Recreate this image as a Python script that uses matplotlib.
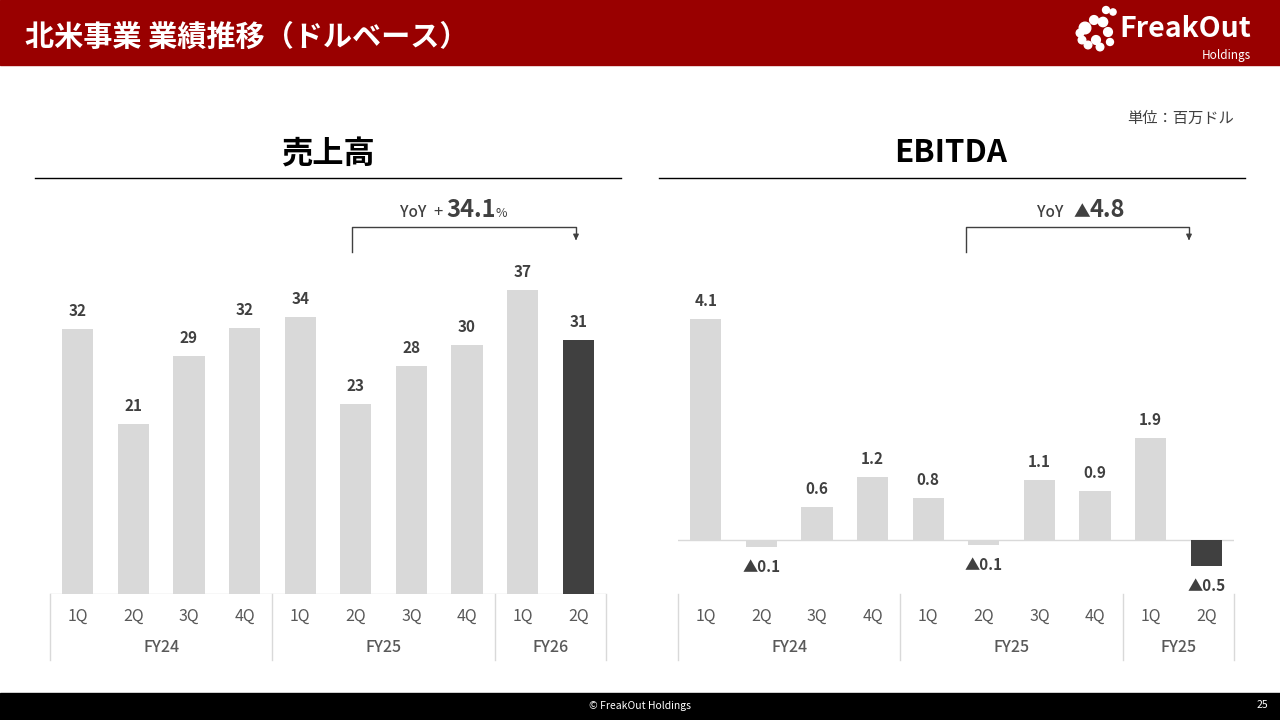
import matplotlib
matplotlib.use('Agg')
import matplotlib.pyplot as plt
from matplotlib.transforms import blended_transform_factory
from matplotlib.patches import Rectangle

plt.rcParams['font.family'] = ['Noto Sans CJK JP', 'DejaVu Sans']

# data (million USD)
quarters = ['1Q', '2Q', '3Q', '4Q', '1Q', '2Q', '3Q', '4Q', '1Q', '2Q']
salesYears = ['FY24', 'FY25', 'FY26']
ebitdaYears = ['FY24', 'FY25', 'FY25']
yearSpans = [(0, 4), (4, 8), (8, 10)]
sales = [32.1, 20.6, 28.8, 32.2, 33.6, 23.0, 27.6, 30.2, 36.9, 30.8]
ebitda = [4.1, -0.13, 0.62, 1.17, 0.78, -0.1, 1.11, 0.91, 1.89, -0.48]
salesYoY = '34.1'
ebitdaYoY = '4.8'

GRAY = '#d9d9d9'
DARK = '#404040'
TXT = '#595959'

fig = plt.figure(figsize=(12.8, 7.2), dpi=100)
over = fig.add_axes([0, 0, 1, 1])
over.set_xlim(0, 1280)
over.set_ylim(720, 0)
over.axis('off')
over.set_zorder(0)

# header / footer
over.add_patch(Rectangle((0, 0), 1280, 65, color='#990000'))
over.add_patch(Rectangle((0, 693), 1280, 27, color='#000000'))
over.text(25, 37, '北米事業 業績推移（ドルベース）', color='white', fontsize=21,
          fontweight='bold', va='center', ha='left')
over.text(1251, 29, 'FreakOut', color='white', fontsize=20.5, fontweight='bold',
          va='center', ha='right')
over.text(1251, 55, 'Holdings', color='white', fontsize=8.5, va='center', ha='right')
# logo mark (rough)
over.scatter([1085, 1094, 1103, 1108, 1096, 1082, 1080, 1088, 1100, 1110, 1113, 1106],
             [28, 20, 22, 32, 40, 40, 33, 45, 47, 42, 12, 10],
             s=[70, 40, 45, 40, 40, 30, 30, 30, 30, 25, 20, 25], color='white', zorder=3)
over.text(640, 706, '© FreakOut Holdings', color='white', fontsize=7.5, ha='center', va='center')
over.text(1268, 705, '25', color='white', fontsize=7.5, ha='right', va='center')
over.text(1234, 118, '単位：百万ドル', color=DARK, fontsize=11, ha='right', va='center')

# section titles
over.text(328, 155, '売上高', fontsize=22.5, fontweight='bold', color='black', ha='center', va='center')
over.plot([35, 621], [178, 178], color='black', lw=1)
over.text(951, 153, 'EBITDA', fontsize=22.5, fontweight='bold', color='black', ha='center', va='center')
over.plot([659, 1245], [178, 178], color='black', lw=1)


def bracket(x0, x1):
    over.plot([x0, x0, x1, x1], [252, 227, 227, 236], color=DARK, lw=1)
    over.annotate('', xy=(x1, 243), xytext=(x1, 235),
                  arrowprops=dict(arrowstyle='-|>', color=DARK, lw=1, mutation_scale=8))


bracket(352, 576)
over.text(400, 217, 'YoY', fontsize=11, fontweight='medium', color=DARK, ha='left', va='baseline')
over.text(433, 217, '+', fontsize=12, color=DARK, ha='left', va='baseline')
over.text(446, 217, salesYoY, fontsize=17, fontweight='bold', color=DARK, ha='left', va='baseline')
over.text(496, 217, '%', fontsize=9, color=DARK, ha='left', va='baseline')

bracket(966, 1189)
over.text(1037, 217, 'YoY', fontsize=11, fontweight='medium', color=DARK, ha='left', va='baseline')
over.text(1073, 217, '▲', fontsize=12, color=DARK, ha='left', va='baseline')
over.text(1090, 217, ebitdaYoY, fontsize=17, fontweight='bold', color=DARK, ha='left', va='baseline')


def barPanel(xpix, zeroPix, pxPerUnit, values, years, fmt):
    left = xpix / 1280
    bottom = (720 - 594) / 720
    top = (720 - 250) / 720
    ax = fig.add_axes([left, bottom, 556 / 1280, top - bottom])
    ax.set_xlim(-0.5, len(values) - 0.5)
    ax.set_ylim(-(594 - zeroPix) / pxPerUnit, (zeroPix - 250) / pxPerUnit)
    ax.axis('off')
    ax.patch.set_alpha(0)
    colors = [GRAY] * (len(values) - 1) + [DARK]
    idx = list(range(len(values)))
    ax.bar(idx, values, width=0.56, color=colors, zorder=2)
    ax.axhline(0, color=GRAY, lw=1, zorder=1)
    for i, v in enumerate(values):
        if v >= 0:
            ax.annotate(fmt(v), (i, v), xytext=(0, 10), textcoords='offset pixels',
                        ha='center', va='bottom', fontsize=11, fontweight='bold', color=DARK)
        else:
            ax.annotate('▲' + fmt(-v), (i, v), xytext=(0, -12), textcoords='offset pixels',
                        ha='center', va='top', fontsize=11, fontweight='bold', color=DARK)
    tr = blended_transform_factory(ax.transData, over.transData)
    for i, q in enumerate(quarters):
        over.text(i, 616, q, transform=tr, fontsize=11.5, color=TXT, ha='center', va='center')
    for (a, b), y in zip(yearSpans, years):
        over.text((a + b - 1) / 2, 647, y, transform=tr, fontsize=11.5, fontweight='medium',
                  color=TXT, ha='center', va='center')
    for s in [-0.5, 3.5, 7.5, 9.5]:
        over.plot([s, s], [594, 660], transform=tr, color=GRAY, lw=1)
    return ax


barPanel(50, 594, 8.25, sales, salesYears, lambda v: '%d' % round(v))
barPanel(678, 540, 54.0, ebitda, ebitdaYears, lambda v: '%.1f' % v)

fig.savefig('out.png', dpi=100)
